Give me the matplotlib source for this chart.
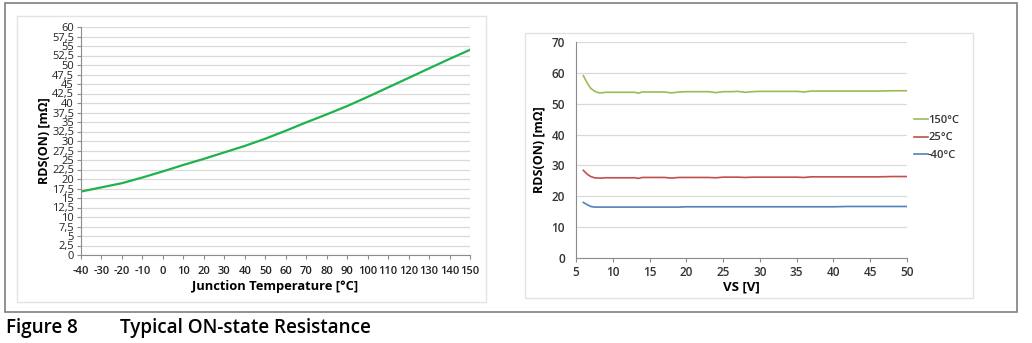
import numpy as np
import matplotlib.pyplot as plt
from matplotlib.patches import Rectangle
from matplotlib.ticker import FuncFormatter

plt.rcParams['font.family'] = ['Open Sans', 'DejaVu Sans']
plt.rcParams['axes.unicode_minus'] = False

# RDS(ON) versus junction temperature
tj = [-40, -30, -20, -10, 0, 10, 20, 30, 40, 50, 60, 70, 80, 90, 100, 110, 120, 130, 140, 150]
rds_tj = [16.7, 17.8, 18.9, 20.4, 22.0, 23.7, 25.3, 27.0, 28.7, 30.6, 32.7, 34.9, 37.0, 39.2,
          41.6, 44.1, 46.6, 49.1, 51.6, 54.0]

# RDS(ON) versus supply voltage
vs = [6, 6.5, 7, 7.5, 8, 8.5, 9, 10, 11, 12, 13, 13.5, 14, 15, 16, 17, 18, 19, 20, 21, 22, 23,
      24, 25, 26, 27, 28, 29, 30, 32, 34, 35, 36, 37, 38, 40, 42, 44, 46, 48, 50]
rds_150 = [59.1, 56.8, 55.0, 54.1, 53.6, 53.5, 53.7, 53.7, 53.7, 53.7, 53.7, 53.4, 53.8, 53.8,
           53.8, 53.8, 53.5, 53.8, 53.9, 53.9, 53.9, 53.9, 53.6, 53.9, 53.9, 54.0, 53.7, 53.9,
           54.0, 54.0, 54.0, 54.0, 53.8, 54.1, 54.1, 54.1, 54.1, 54.1, 54.1, 54.2, 54.2]
rds_25 = [28.4, 27.2, 26.4, 26.0, 25.9, 25.9, 26.0, 26.0, 26.0, 26.0, 26.0, 25.8, 26.1, 26.1,
          26.1, 26.1, 25.9, 26.1, 26.1, 26.1, 26.1, 26.1, 26.0, 26.2, 26.2, 26.2, 26.1, 26.2,
          26.2, 26.2, 26.2, 26.2, 26.1, 26.3, 26.3, 26.3, 26.3, 26.3, 26.3, 26.4, 26.4]
rds_m40 = [18.0, 17.3, 16.7, 16.5, 16.5, 16.5, 16.5, 16.5, 16.5, 16.5, 16.5, 16.5, 16.5, 16.5,
           16.5, 16.5, 16.5, 16.5, 16.6, 16.6, 16.6, 16.6, 16.6, 16.6, 16.6, 16.6, 16.6, 16.6,
           16.6, 16.6, 16.6, 16.6, 16.6, 16.6, 16.6, 16.6, 16.7, 16.7, 16.7, 16.7, 16.7]
series_labels = ['150°C', '25°C', '-40°C']

W, H = 1032, 343
fig = plt.figure(figsize=(W / 100, H / 100), dpi=100)

# frame around both charts and the light chart-area boxes
fig.add_artist(Rectangle((5 / W, 1 - 312 / H), 1012 / W, 309 / H, transform=fig.transFigure,
                         fill=False, edgecolor='#7f7f7f', linewidth=1.2))
fig.add_artist(Rectangle((17 / W, 1 - 302 / H), 469 / W, 286 / H, transform=fig.transFigure,
                         fill=False, edgecolor='#e3e3e3', linewidth=1.0))
fig.add_artist(Rectangle((525 / W, 1 - 298 / H), 448 / W, 265 / H, transform=fig.transFigure,
                         fill=False, edgecolor='#e3e3e3', linewidth=1.0))

grid_c = '#d9d9d9'
spine_c = '#8c8c8c'

# ---- left chart
ax1 = fig.add_axes([81 / W, 1 - 255 / H, 389 / W, 228 / H])
ax1.plot(tj, rds_tj, color='#1fb24a', linewidth=1.6)
ax1.set_xlim(-40, 150)
ax1.set_ylim(0, 60)
ax1.set_xticks(np.arange(-40, 151, 10))
ax1.set_yticks(np.arange(0, 60.1, 2.5))
ax1.yaxis.set_major_formatter(FuncFormatter(
    lambda v, p: (f'{v:.1f}'.replace('.', ',') if v % 1 else f'{v:.0f}')))
ax1.grid(axis='y', color=grid_c, linewidth=0.9)
ax1.set_axisbelow(True)
for s in ['top', 'right']:
    ax1.spines[s].set_visible(False)
for s in ['left', 'bottom']:
    ax1.spines[s].set_color(spine_c)
ax1.tick_params(axis='both', colors=spine_c, labelcolor='#222222', labelsize=8, length=3, pad=2)
ax1.tick_params(axis='x', pad=5)
for lbl in ax1.get_xticklabels():
    lbl.set_fontweight('semibold')
ax1.set_xlabel('Junction Temperature [°C]', fontsize=9.3, fontweight='bold', labelpad=2)
ax1.set_ylabel('RDS(ON) [mΩ]', fontsize=9, fontweight='bold', labelpad=1)

# ---- right chart
ax2 = fig.add_axes([576 / W, 1 - 258 / H, 331 / W, 216 / H])
ax2.plot(vs, rds_150, color='#9bbb59', linewidth=1.2, label=series_labels[0])
ax2.plot(vs, rds_25, color='#c0504d', linewidth=1.2, label=series_labels[1])
ax2.plot(vs, rds_m40, color='#4f81bd', linewidth=1.2, label=series_labels[2])
ax2.set_xlim(5, 50)
ax2.set_ylim(0, 70)
ax2.set_xticks(np.arange(5, 51, 5))
ax2.set_yticks(np.arange(0, 71, 10))
ax2.grid(axis='y', color=grid_c, linewidth=0.9)
ax2.set_axisbelow(True)
for s in ['top', 'right']:
    ax2.spines[s].set_visible(False)
for s in ['left', 'bottom']:
    ax2.spines[s].set_color(spine_c)
ax2.tick_params(axis='both', colors=spine_c, labelcolor='#333333', labelsize=8.5, length=3, pad=3)
ax2.tick_params(axis='y', length=0, pad=8)
for lbl in ax2.get_xticklabels() + ax2.get_yticklabels():
    lbl.set_fontweight('semibold')
ax2.set_xlabel('VS [V]', fontsize=9.5, fontweight='bold', labelpad=1)
ax2.set_ylabel('RDS(ON) [mΩ]', fontsize=9, fontweight='bold', labelpad=4)
leg = ax2.legend(loc='center left', bbox_to_anchor=(1.0, 0.556), frameon=False, fontsize=8,
                 handlelength=1.3, handletextpad=0.0, labelspacing=0.55, borderaxespad=0.2)
for t in leg.get_texts():
    t.set_fontweight('semibold')
    t.set_color('#333333')

# caption
fig.text(6 / W, 1 - 328 / H, 'Figure 8', fontsize=13.6, fontweight='semibold', va='center')
fig.text(120 / W, 1 - 328 / H, 'Typical ON-state Resistance', fontsize=13.6,
         fontweight='semibold', va='center')

fig.savefig('out.png', dpi=100)
